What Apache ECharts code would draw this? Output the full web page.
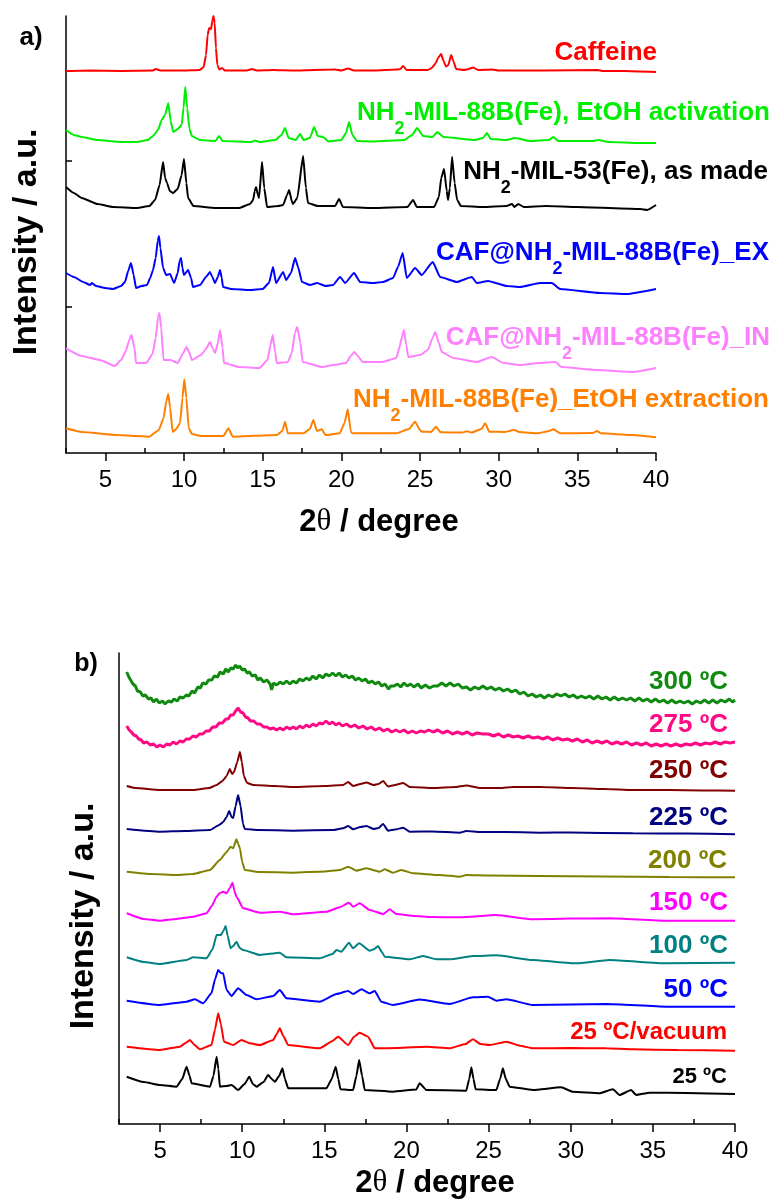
<!DOCTYPE html>
<html>
<head>
<meta charset="utf-8">
<script src="https://cdn.jsdelivr.net/npm/echarts@6/dist/echarts.min.js"></script>
<style>
  html, body { margin: 0; padding: 0; background: #fff; }
  #chart { width: 776px; height: 1201px; }
</style>
</head>
<body>
<div id="chart"></div>
<script>
// ---------- tick values ----------
const majorTicks = [5, 10, 15, 20, 25, 30, 35, 40];
const minorTicks = [2.5, 7.5, 12.5, 17.5, 22.5, 27.5, 32.5, 37.5];

// ---------- panel a: [2θ, offset intensity] ----------
const caffeine = [[2.5,382],[4,382.5],[6,382],[8,382.5],[8.22,384],[8.5,382.5],[10,382.5],[11.0,383],[11.25,386],[11.4,398],[11.5,418],[11.6,425],[11.72,424],[11.8,432],[11.87,437],[11.95,430],[12.03,405],[12.12,388],[12.25,383.5],[12.42,385],[12.6,382.5],[14.0,382.5],[14.32,384],[14.6,382.5],[15.66,383],[17,382.5],[19.6,383.5],[20.0,382.5],[20.43,384.5],[20.8,382.5],[22,382.5],[23.54,383.5],[23.75,384],[23.92,387],[24.15,383],[25.5,383],[25.75,385],[26.0,390],[26.15,395],[26.34,399],[26.5,392],[26.65,386.5],[26.8,388],[26.98,398],[27.12,392],[27.3,384],[27.8,383],[28.1,384],[28.37,385.5],[28.7,383],[29.58,383.5],[30,382.5],[33,382.5],[36.32,383],[36.6,382],[38,382],[40,381]];

const mil88bActivation = [[2.5,323],[3.0,318],[3.5,316],[4.5,313],[6,311],[7.0,311],[7.7,313],[8.03,317],[8.35,323],[8.58,333],[8.8,338],[9.0,350],[9.15,332],[9.32,321],[9.6,324],[9.85,328],[9.97,345],[10.08,366],[10.2,345],[10.35,324],[10.5,317],[11,313],[12.0,312],[12.23,317],[12.45,312],[14.3,311],[14.5,312.5],[14.8,311],[15.8,313],[16.2,318],[16.42,325],[16.65,315],[17.1,313],[17.38,319],[17.6,313],[18.0,315],[18.27,326],[18.5,317],[18.84,316],[19.2,311.5],[20.0,313],[20.3,320],[20.49,331],[20.7,318],[21.0,312],[22,311.5],[24.0,313],[24.5,318],[24.81,325],[25.2,317],[25.8,316],[26.09,321],[26.5,316],[28.5,313],[29.0,315],[29.26,320],[29.5,314],[30.5,313],[31.04,315],[32,312],[33.2,313],[33.46,316],[33.8,312],[36.0,312],[36.32,313],[37,311],[39,310],[40,310]];

const mil53AsMade = [[2.5,266],[3.0,260],[3.5,255],[4.5,249],[5.5,246],[7,245],[7.8,247],[8.16,253],[8.45,268],[8.67,291],[8.8,275],[8.92,270],[9.1,262],[9.3,260],[9.6,264],[9.85,278],[10.0,294],[10.15,270],[10.26,255],[10.6,247],[12,245],[13.5,245],[14.2,249],[14.39,253],[14.5,262],[14.58,266],[14.7,258],[14.77,255],[14.96,291],[15.1,265],[15.28,246],[16,247],[16.3,248],[16.55,258],[16.68,263],[16.85,252],[16.93,249],[17.2,255],[17.57,297],[17.75,265],[17.88,250],[18.5,247],[19.6,247],[19.86,254],[20.1,246],[22,245],[24.2,246],[24.56,253],[24.8,246],[25.9,246],[26.2,256],[26.35,275],[26.53,284],[26.7,262],[26.78,253],[26.9,265],[27.04,296],[27.2,270],[27.36,253],[27.6,247],[29,246],[30.5,247],[30.85,249],[31,246],[31.24,249],[31.6,246],[33,247],[35,246],[39,244],[39.44,243],[40,248]];

const cafEx = [[2.5,180],[3.0,176],[3.6,171],[4.03,168],[4.15,170],[4.4,167],[5.0,165],[5.49,164],[6.0,167],[6.25,171],[6.45,182],[6.63,190],[6.8,178],[6.95,165],[7.3,167],[7.65,168],[7.85,175],[8.03,183],[8.2,195],[8.33,212],[8.41,217],[8.5,205],[8.67,185],[8.86,178],[9.11,179],[9.37,170],[9.6,180],[9.72,192],[9.81,195],[9.9,185],[10.0,178],[10.26,183],[10.45,175],[10.57,166],[11.02,168],[11.4,176],[11.65,181],[11.8,176],[11.97,170],[12.15,176],[12.29,183],[12.4,175],[12.48,166],[13,164],[14.2,163],[15.0,164],[15.4,170],[15.66,186],[15.85,170],[16.3,181],[16.49,173],[16.8,180],[17.06,195],[17.25,186],[17.5,171],[18.01,168],[18.46,170],[19.0,167],[19.47,168],[19.92,176],[20.24,170],[20.81,180],[21.19,171],[22,170],[22.65,171],[23.29,175],[23.6,186],[23.9,200],[24.16,175],[24.69,185],[25.11,178],[25.81,191],[26.28,176],[27.34,171],[28.29,176],[28.61,170],[29.33,172],[30.52,167],[31.36,166],[32.63,170],[33.38,170],[33.9,164],[36.45,160],[38.14,159],[40,164]];

const cafIn = [[2.5,104.7],[3.5,97],[4.66,93],[5.6,87],[6.0,93],[6.3,102],[6.5,112],[6.66,118],[6.85,105],[6.95,90],[7.6,90],[8.0,99],[8.2,115],[8.35,136],[8.44,140],[8.55,125],[8.7,93],[9.15,93],[9.6,90],[9.95,100],[10.16,106],[10.35,100],[10.5,93],[11.08,98],[11.4,104],[11.65,111],[11.85,104],[11.97,100],[12.15,110],[12.29,123],[12.45,105],[12.54,90],[13.5,86],[14.8,85],[15.3,93],[15.5,108],[15.64,118],[15.8,100],[15.9,90],[16.6,91],[16.85,100],[17.05,120],[17.2,126],[17.4,110],[17.54,91],[18.77,86],[19.5,88],[20.3,90],[20.6,97],[20.83,101],[21.1,96],[21.35,91],[22.6,91],[23.5,95],[23.7,106],[23.85,116],[23.98,123],[24.12,108],[24.26,96],[25.0,98],[25.5,103],[25.8,115],[25.97,121],[26.2,110],[26.38,101],[27.12,95],[28.6,91],[29.56,96],[30.3,90],[31.36,88],[32.6,90],[33.6,91],[34.0,86],[36.2,83],[38.5,81],[40,85]];

const mil88bExtraction = [[2.5,24.7],[3.5,21],[5.74,18],[7.0,17],[7.8,16.3],[8.4,23],[8.7,35],[8.88,52],[9.0,59],[9.12,45],[9.28,21],[9.5,24],[9.75,30],[9.9,55],[10.02,73.7],[10.15,55],[10.3,25],[10.5,19],[11.08,17],[12.5,17],[12.82,24.7],[13.1,16.3],[15.9,18],[16.25,22],[16.42,31.3],[16.6,19.7],[17.6,19.7],[18.0,24],[18.22,33],[18.45,22],[18.75,23.7],[19.0,18],[19.9,19.7],[20.2,30],[20.41,43.7],[20.6,22],[20.7,19.7],[23.5,19.7],[24.3,24],[24.69,31.3],[25.0,23],[25.11,21.3],[25.7,21],[26.02,26.3],[26.3,20.7],[27.7,20.5],[27.97,21.8],[28.3,20.5],[28.9,24],[29.14,29.7],[29.4,21.3],[30.4,21],[30.73,22.3],[31.0,23],[31.3,21],[32.5,19.7],[33.2,22],[33.48,23.7],[33.9,19.7],[36.0,20],[36.24,22],[36.5,19.7],[38.5,18],[40,15.7]];

// ---------- panel b: [2θ, offset intensity] ----------
const t300 = [[2.97,452],[3.1,447],[3.22,446],[3.35,440],[3.5,438],[3.62,433],[3.8,432],[3.95,428],[4.1,429],[4.3,425],[4.45,426],[4.6,422],[4.78,425],[4.95,421],[5.15,423],[5.3,420],[5.5,423],[5.7,422],[5.85,425],[6.05,423],[6.2,427],[6.4,426],[6.6,429],[6.75,428],[6.95,433],[7.1,431],[7.3,437],[7.45,436],[7.6,441],[7.8,440],[7.95,444],[8.15,444],[8.3,448],[8.5,447],[8.65,452],[8.85,450],[9.0,455],[9.15,452],[9.3,456],[9.45,455],[9.6,459],[9.72,456],[9.85,458],[10.0,454],[10.15,455],[10.3,451],[10.45,452],[10.6,448],[10.8,449],[10.95,444],[11.1,446],[11.3,442],[11.5,444],[11.7,440],[11.79,434],[11.9,441],[12.1,439],[12.3,442],[12.5,440],[12.7,443],[12.9,440],[13.1,443],[13.3,441],[13.5,445],[13.7,443],[13.9,446],[14.1,444],[14.3,448],[14.5,445],[14.7,449],[14.9,446],[15.1,450],[15.3,448],[15.5,451],[15.7,448],[15.9,451],[16.1,447],[16.3,449],[16.5,446],[16.7,448],[16.9,444],[17.1,446],[17.3,443],[17.5,445],[17.7,441],[17.9,443],[18.1,440],[18.3,442],[18.5,438],[18.7,440],[18.9,435],[19.05,438],[19.25,438],[19.45,440],[19.65,437],[19.85,441],[20.05,438],[20.25,440],[20.45,437],[20.7,440],[20.9,436],[21.15,439],[21.4,436],[21.65,438],[21.9,438],[22.15,441],[22.4,438],[22.65,441],[22.9,438],[23.15,440],[23.4,436],[23.65,437],[23.9,434],[24.15,437],[24.4,435],[24.65,438],[24.9,435],[25.15,437],[25.4,434],[25.65,436],[25.9,433],[26.15,435],[26.4,432],[26.65,434],[26.9,430],[27.15,432],[27.4,428],[27.65,430],[27.9,427],[28.15,429],[28.4,426],[28.65,429],[28.9,427],[29.15,430],[29.4,428],[29.65,430],[29.9,427],[30.15,429],[30.4,426],[30.65,428],[30.9,426],[31.15,428],[31.4,425],[31.65,428],[31.9,425],[32.15,427],[32.4,424],[32.65,427],[32.9,424],[33.15,426],[33.4,424],[33.65,426],[33.9,423],[34.15,426],[34.4,423],[34.65,425],[34.9,422],[35.15,425],[35.4,422],[35.65,424],[35.9,421],[36.15,424],[36.4,421],[36.65,423],[36.9,421],[37.15,423],[37.4,420],[37.65,423],[37.9,421],[38.15,424],[38.4,421],[38.65,424],[38.9,421],[39.15,424],[39.4,422],[39.65,425],[39.85,422],[40,424]];

const t275 = [[2.97,398],[3.12,394],[3.25,392],[3.4,389],[3.55,388],[3.7,385],[3.85,384],[4.0,381],[4.2,382],[4.4,379],[4.6,380],[4.8,377],[5.0,379],[5.2,377],[5.4,380],[5.6,379],[5.8,382],[6.0,380],[6.2,383],[6.4,382],[6.6,385],[6.8,385],[7.0,388],[7.2,387],[7.4,390],[7.6,390],[7.8,393],[8.0,393],[8.2,397],[8.4,397],[8.6,401],[8.8,401],[9.0,405],[9.15,405],[9.3,409],[9.45,409],[9.6,413],[9.75,416],[9.9,412],[10.05,411],[10.2,407],[10.35,406],[10.5,403],[10.7,403],[10.9,400],[11.1,400],[11.3,397],[11.5,397],[11.7,395],[11.9,396],[12.1,394],[12.3,396],[12.5,394],[12.7,397],[12.9,395],[13.1,397],[13.3,395],[13.5,398],[13.7,396],[13.9,399],[14.1,397],[14.3,400],[14.5,398],[14.7,401],[14.9,400],[15.1,403],[15.3,400],[15.5,402],[15.7,399],[15.9,401],[16.1,398],[16.35,400],[16.6,397],[16.85,399],[17.1,396],[17.35,398],[17.6,395],[17.85,397],[18.1,394],[18.35,396],[18.6,393],[18.85,395],[19.1,392],[19.35,394],[19.6,392],[19.85,394],[20.1,391],[20.35,393],[20.6,391],[20.85,393],[21.1,392],[21.35,394],[21.62,392],[21.9,394],[22.2,391],[22.5,393],[22.8,390],[23.1,392],[23.4,390],[23.7,392],[24.0,389],[24.3,391],[24.65,390],[25.0,390],[25.3,388],[25.6,390],[25.9,387],[26.2,389],[26.5,387],[26.8,388],[27.1,386],[27.4,388],[27.7,386],[28.0,387],[28.3,385],[28.6,387],[28.9,384],[29.2,386],[29.5,384],[29.8,385],[30.1,383],[30.4,385],[30.7,382],[31.0,384],[31.3,381],[31.6,383],[31.9,381],[32.2,383],[32.5,380],[32.8,382],[33.1,380],[33.4,382],[33.7,379],[34.0,381],[34.3,379],[34.6,381],[34.9,378],[35.2,380],[35.5,378],[35.8,380],[36.1,378],[36.4,380],[36.7,378],[37.0,380],[37.3,379],[37.6,381],[37.9,379],[38.2,381],[38.5,380],[38.8,382],[39.1,380],[39.4,382],[39.7,381],[40,382]];

const t250 = [[2.97,338],[3.5,336],[4.99,334],[7.02,334],[8.0,336],[8.44,339],[8.8,343],[9.05,348],[9.25,355],[9.38,350],[9.5,352],[9.7,362],[9.86,372],[9.98,362],[10.1,348],[10.3,341],[10.67,339],[12,338],[13.1,337],[15.0,338],[16.14,339],[16.45,342],[16.75,338],[17.2,340],[17.56,341.5],[18.0,339],[18.3,340],[18.58,343],[18.88,337.5],[19.3,339],[19.8,341],[20.2,337],[21.62,336],[23.0,337],[23.64,338.5],[24.5,336],[25.68,336],[26.5,337],[28.11,337],[30.12,336],[32.0,335],[33.78,334],[36,334],[38,333.5],[40,333.3]];

const t225 = [[2.97,295],[4.99,292.3],[6.5,293],[8.04,294],[8.6,299],[8.84,302],[9.05,307],[9.21,313],[9.35,307],[9.45,306],[9.6,318],[9.75,329],[9.9,318],[10.05,300],[10.16,295],[11,294],[13.1,293.3],[15.5,294],[16.14,295.7],[16.45,298],[16.75,294.7],[17.2,297],[17.56,298],[18.0,295],[18.3,296],[18.58,300],[18.88,293.3],[19.3,294.5],[19.8,296.3],[20.2,292.3],[21.6,292.5],[23.24,291.3],[23.64,293],[24.5,292],[26,292],[28.11,291.3],[30,291.5],[33.78,290.7],[37,290.5],[40,289.7]];

const t200 = [[2.97,252.3],[4.5,250],[6.0,249],[7.0,250],[8.04,254],[8.64,264],[9.0,271],[9.15,274],[9.29,277.3],[9.45,275.7],[9.65,284.7],[9.76,280],[9.86,275.7],[10.0,262],[10.16,254],[11.0,252],[13.1,251.3],[15.0,252.5],[15.94,254],[16.45,257.3],[16.95,253.3],[17.56,255.7],[18.37,252.3],[18.68,254.7],[19.18,251.3],[19.69,254],[20.4,250.7],[22.0,249],[23.24,247.3],[23.64,249],[25,248.5],[28,248],[32,247.5],[36,247],[40,246.7]];

const t150 = [[2.97,210.7],[4.0,205],[4.99,203.3],[6.0,205],[7.02,207.3],[7.83,210.7],[8.15,218],[8.44,227.3],[8.64,231],[8.84,232.3],[9.05,230.7],[9.25,236],[9.41,241.3],[9.53,233],[9.65,227.3],[10.06,215.7],[11.08,211.3],[12.29,212.3],[13.1,209.7],[15.13,212.3],[15.94,216.7],[16.5,221.3],[16.75,217.3],[17.15,220.7],[17.76,214],[18.58,210],[18.98,214.7],[19.39,210],[20.5,208],[21.5,207],[23.24,206.7],[25.47,209],[27.69,204.7],[30,205.5],[32.36,205.7],[35.81,203.3],[40,203.3]];

const t100 = [[2.97,166.7],[4.0,162],[4.99,160],[6.61,164],[7.02,166.7],[7.83,165.7],[8.2,175],[8.44,189],[8.7,189],[8.85,193],[8.99,198],[9.12,188],[9.29,175.7],[9.45,178],[9.65,182.3],[9.85,176],[10.06,174],[11.08,169],[12.29,171.3],[12.69,166.7],[14.72,165.7],[15.5,170],[15.74,174],[16.04,172.3],[16.5,181.3],[16.75,175.7],[17.12,180.7],[17.76,173.3],[18.05,175],[18.27,178],[18.5,172],[18.68,167.3],[20.2,164.7],[21.01,168],[21.82,164.7],[22.63,164.7],[24.05,168],[25.47,168.7],[27.69,164],[30.33,160.7],[32.36,164],[35.81,160.7],[40,161.3]];

const t50 = [[2.97,123.3],[4.99,119],[6.61,122.3],[7.12,124.7],[7.63,120.7],[8.13,130.7],[8.35,145],[8.54,154],[8.7,151],[8.84,150.7],[9.05,134],[9.35,128],[9.75,135.7],[10.27,129],[10.87,124.7],[11.89,128],[12.29,134],[12.69,125.7],[14.72,122.3],[15.74,130],[16.45,133],[16.75,130],[17.26,134.7],[17.76,130.7],[18.07,133],[18.47,122.3],[19.18,119],[20.8,124.5],[22.63,120],[24.05,126.7],[24.96,127.3],[25.47,123.3],[26.08,124.7],[27.69,119],[30,119.5],[32.16,120],[35.81,117.3],[40,117.3]];

const t25vacuum = [[2.97,77.3],[4.99,74],[6.21,77.3],[6.55,81],[6.82,84],[7.1,79],[7.43,74.7],[8.13,79],[8.35,95],[8.54,110.7],[8.7,100],[8.89,82.3],[9.45,79],[9.96,84],[10.47,80.7],[11.08,79],[11.89,84],[12.1,90],[12.29,95.7],[12.5,88],[12.8,79],[14.72,75.7],[15.5,83],[15.84,87.3],[16.45,79],[16.8,87],[17.15,91.3],[17.66,87.3],[18.07,75.7],[19.5,76],[21.21,77.3],[22.63,75.7],[23.6,80],[24.05,84.7],[24.5,80],[25.07,79],[26.08,82.3],[27.0,78],[27.69,75.7],[30,76],[32.16,75.7],[33.78,74.7],[36.5,74],[40,73.3]];

const t25 = [[2.97,47.3],[4.0,42],[4.99,39],[6.0,37.3],[6.35,45],[6.61,57.3],[6.8,48],[6.92,40.7],[8.04,37.3],[8.25,48],[8.44,67.3],[8.55,55],[8.64,37.3],[9.05,38],[9.35,39],[9.75,34],[10.15,40],[10.43,47.3],[10.65,40],[10.87,37.3],[11.3,42],[11.58,49],[11.8,45],[11.99,42.3],[12.25,48],[12.45,55.7],[12.6,45],[12.8,35.7],[15.13,35.7],[15.45,45],[15.69,57.3],[15.85,45],[15.98,34.7],[16.75,34],[16.95,48],[17.12,64],[17.3,48],[17.46,34],[19.18,32.3],[20.6,34.5],[20.8,40.7],[21.21,34],[23.64,33.3],[23.82,45],[23.95,56.7],[24.08,45],[24.21,34.7],[25.47,34],[25.7,45],[25.87,55.7],[26.05,45],[26.28,37.3],[27.69,34],[29.42,36.7],[30.12,32.3],[31.75,30.7],[32.57,34.7],[32.97,29],[33.68,34],[33.98,29],[34.79,31.3],[37,31],[40,30]];

// ---------- drawing ----------
const SANS = '"Liberation Sans", Arial, Helvetica, sans-serif';
const SERIF = '"Liberation Serif", "DejaVu Serif", serif';

const chart = echarts.init(document.getElementById('chart'), null, { renderer: 'canvas' });

function majorAxis(gridIndex) {
  return {
    type: 'value', gridIndex, min: 2.5, max: 40,
    axisLine: { show: true, onZero: false, lineStyle: { color: '#000', width: 1.5 } },
    axisTick: { show: true, inside: false, length: 8, customValues: majorTicks, lineStyle: { color: '#000', width: 1.5 } },
    axisLabel: { show: true, customValues: majorTicks, margin: 15, color: '#000', fontSize: 24, fontFamily: SANS },
    splitLine: { show: false }
  };
}
function minorAxis(gridIndex) {
  return {
    type: 'value', gridIndex, min: 2.5, max: 40,
    axisLine: { show: false },
    axisTick: { show: true, inside: false, length: 5, customValues: minorTicks, lineStyle: { color: '#000', width: 1.5 } },
    axisLabel: { show: false },
    splitLine: { show: false }
  };
}

function trace(data, color, xi, yi, width, smooth) {
  return {
    type: 'line', data, xAxisIndex: xi, yAxisIndex: yi,
    showSymbol: false, symbol: 'none', silent: true, clip: true,
    smooth: smooth === undefined ? 0.15 : smooth, smoothMonotone: 'x',
    lineStyle: { color, width: width || 2 }, itemStyle: { color },
    animation: false
  };
}

const nameRich = {
  n: { fontSize: 26, fontWeight: 'bold', fontFamily: SANS, lineHeight: 50 },
  s: { fontSize: 18, fontWeight: 'bold', fontFamily: SANS, lineHeight: 18, verticalAlign: 'bottom' }
};

function label(text, x, y, fill, size) {
  return {
    type: 'text', x, y, silent: true,
    style: {
      text, fill, align: 'right', verticalAlign: 'middle',
      fontSize: size || 26, fontWeight: 'bold', fontFamily: SANS,
      rich: nameRich
    }
  };
}

const axisTitleRich = {
  b: { fontSize: 31, fontWeight: 'bold', fontFamily: SANS },
  t: { fontSize: 31, fontWeight: 'normal', fontFamily: SERIF }
};

const option = {
  backgroundColor: '#fff',
  animation: false,
  grid: [
    { left: 66, top: 16, width: 590, height: 437 },
    { left: 119, top: 653, width: 616, height: 471 }
  ],
  xAxis: [majorAxis(0), minorAxis(0), majorAxis(1), minorAxis(1)],
  yAxis: [
    {
      type: 'value', gridIndex: 0, min: 0, max: 437,
      axisLine: { show: true, lineStyle: { color: '#000', width: 1.5 } },
      axisTick: { show: true, inside: true, length: 6, customValues: [146, 292], lineStyle: { color: '#000', width: 1.5 } },
      axisLabel: { show: false }, splitLine: { show: false }
    },
    {
      type: 'value', gridIndex: 1, min: 0, max: 471,
      axisLine: { show: true, lineStyle: { color: '#000', width: 1.5 } },
      axisTick: { show: false }, axisLabel: { show: false }, splitLine: { show: false }
    }
  ],
  series: [
    trace(caffeine, '#ff0000', 0, 0),
    trace(mil88bActivation, '#00ee00', 0, 0),
    trace(mil53AsMade, '#000000', 0, 0),
    trace(cafEx, '#0000ff', 0, 0),
    trace(cafIn, '#ff80ff', 0, 0),
    trace(mil88bExtraction, '#ff8000', 0, 0),
    trace(t300, '#108a10', 2, 1, 3, false),
    trace(t275, '#ff0a84', 2, 1, 3, false),
    trace(t250, '#800000', 2, 1),
    trace(t225, '#000080', 2, 1),
    trace(t200, '#808000', 2, 1),
    trace(t150, '#ff00ff', 2, 1),
    trace(t100, '#008080', 2, 1),
    trace(t50, '#0000ff', 2, 1),
    trace(t25vacuum, '#ff0000', 2, 1),
    trace(t25, '#000000', 2, 1)
  ],
  graphic: [
    // panel tags
    { type: 'text', x: 31, y: 38, silent: true, style: { text: 'a)', fill: '#000', align: 'center', verticalAlign: 'middle', fontSize: 26, fontWeight: 'bold', fontFamily: SANS } },
    { type: 'text', x: 86, y: 664, silent: true, style: { text: 'b)', fill: '#000', align: 'center', verticalAlign: 'middle', fontSize: 25, fontWeight: 'bold', fontFamily: SANS } },
    // y-axis titles
    { type: 'text', x: 27, y: 242, rotation: Math.PI / 2, silent: true, style: { text: 'Intensity / a.u.', fill: '#000', align: 'center', verticalAlign: 'middle', fontSize: 34, fontWeight: 'bold', fontFamily: SANS } },
    { type: 'text', x: 84, y: 916, rotation: Math.PI / 2, silent: true, style: { text: 'Intensity / a.u.', fill: '#000', align: 'center', verticalAlign: 'middle', fontSize: 34, fontWeight: 'bold', fontFamily: SANS } },
    // x-axis titles
    { type: 'text', x: 379, y: 522, silent: true, style: { text: '{b|2}{t|θ}{b| / degree}', fill: '#000', align: 'center', verticalAlign: 'middle', rich: axisTitleRich } },
    { type: 'text', x: 435, y: 1183, silent: true, style: { text: '{b|2}{t|θ}{b| / degree}', fill: '#000', align: 'center', verticalAlign: 'middle', rich: axisTitleRich } },
    // panel a trace names
    label('{n|Caffeine}', 657, 53, '#ff0000'),
    label('{n|NH}{s|2}{n|-MIL-88B(Fe), EtOH activation}', 770, 113, '#00ee00'),
    label('{n|NH}{s|2}{n|-MIL-53(Fe), as made}', 768, 172, '#000000'),
    label('{n|CAF@NH}{s|2}{n|-MIL-88B(Fe)_EX}', 769, 253, '#0000ff'),
    label('{n|CAF@NH}{s|2}{n|-MIL-88B(Fe)_IN}', 770, 338, '#ff80ff'),
    label('{n|NH}{s|2}{n|-MIL-88B(Fe)_EtOH extraction}', 769, 400, '#ff8000'),
    // panel b trace names
    label('300 ºC', 728, 682, '#108a10'),
    label('275 ºC', 728, 725, '#ff0a84'),
    label('250 ºC', 728, 771, '#800000'),
    label('225 ºC', 728, 818, '#000080'),
    label('200 ºC', 727, 861, '#808000'),
    label('150 ºC', 728, 903, '#ff00ff'),
    label('100 ºC', 728, 946, '#008080'),
    label('50 ºC', 728, 990, '#0000ff'),
    label('25 ºC/vacuum', 727, 1032, '#ff0000', 24),
    label('25 ºC', 727, 1077, '#000000', 22)
  ]
};

chart.setOption(option);
</script>
</body>
</html>
